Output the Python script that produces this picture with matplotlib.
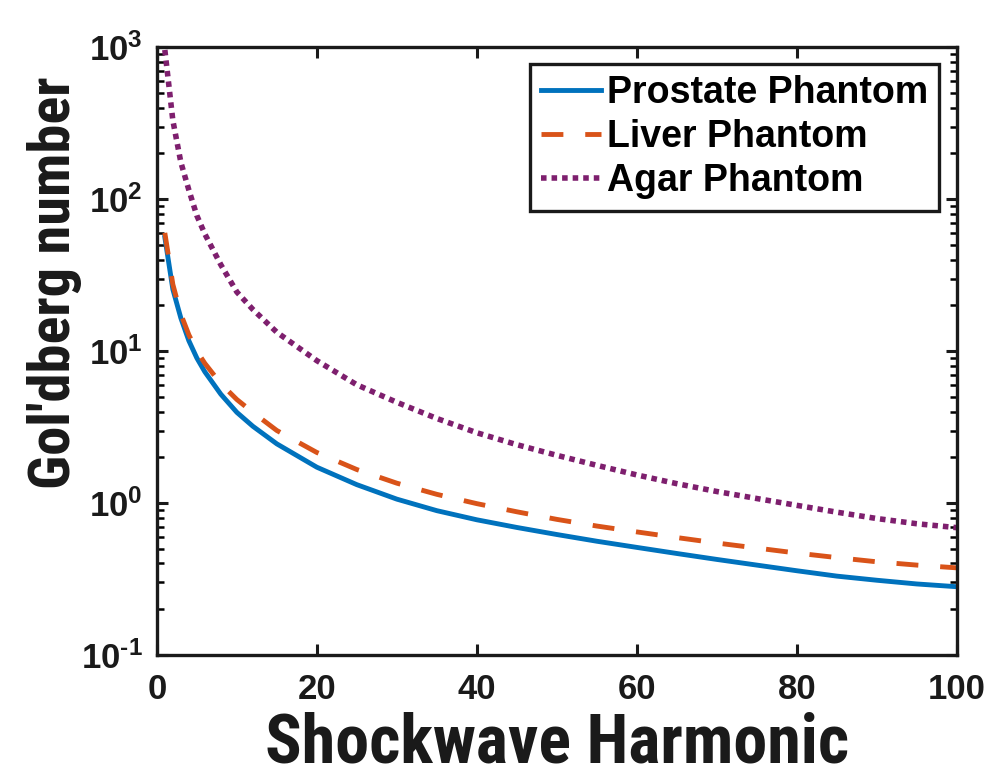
import matplotlib
matplotlib.use("Agg")
import matplotlib.pyplot as plt
from matplotlib import font_manager
from matplotlib.font_manager import FontProperties
from matplotlib.ticker import LogLocator, FixedLocator, FuncFormatter

plt.rcParams['font.family'] = ['Liberation Sans', 'DejaVu Sans']
plt.rcParams['font.weight'] = 'bold'
plt.rcParams['mathtext.fontset'] = 'custom'
plt.rcParams['mathtext.rm'] = 'Liberation Sans:bold'
plt.rcParams['mathtext.bf'] = 'Liberation Sans:bold'
plt.rcParams['mathtext.default'] = 'bf'
plt.rcParams['axes.unicode_minus'] = False


def find_narrow():
    cands = []
    for f in font_manager.fontManager.ttflist:
        nm = f.name.lower()
        fn = f.fname.lower()
        if 'dejavu' in nm:
            continue
        narrow = ('narrow' in nm or 'condensed' in nm or 'narrow' in fn
                  or 'condensed' in fn or f.stretch in ('condensed', 'semi-condensed', 300))
        bold = (f.weight in ('bold', 700, 'semibold', 600) or 'bold' in fn)
        if narrow and bold and 'italic' not in fn and 'oblique' not in fn:
            cands.append(f.fname)
    cands.sort(key=lambda p: (0 if 'liberation' in p.lower() else
                              1 if 'roboto' in p.lower() else 2, len(p)))
    return cands[0] if cands else None


narrow_file = find_narrow()

# harmonic number
harmonic = [1, 2, 3, 4, 5, 6, 8, 10, 12, 15, 20, 25, 30, 35, 40, 45, 50,
            55, 60, 65, 70, 75, 80, 85, 90, 95, 100]

prostate = [56, 25.5, 16.5, 11.7, 9.0, 7.3, 5.2, 3.95, 3.2, 2.45, 1.72, 1.32,
            1.06, 0.89, 0.775, 0.69, 0.62, 0.56, 0.51, 0.465, 0.425, 0.39,
            0.358, 0.33, 0.31, 0.293, 0.281]

liver = [60, 27.5, 17.5, 12.8, 10.0, 8.3, 6.1, 4.8, 3.95, 3.0, 2.15, 1.66,
         1.35, 1.14, 0.99, 0.875, 0.78, 0.705, 0.645, 0.592, 0.545, 0.505,
         0.468, 0.437, 0.41, 0.39, 0.374]

agar = [960, 330, 175, 115, 78, 59, 37, 24.5, 18.8, 13.3, 8.65, 6.0, 4.6,
        3.6, 2.9, 2.42, 2.06, 1.77, 1.53, 1.34, 1.19, 1.07, 0.965, 0.87,
        0.79, 0.73, 0.688]

labels = ['Prostate Phantom', 'Liver Phantom', 'Agar Phantom']
x_ticks = [0, 20, 40, 60, 80, 100]


def pow_label(v, pos):
    import math
    e = int(round(math.log10(v)))
    exp = r'\text{-}%d' % (-e) if e < 0 else '%d' % e
    return r'$10^{%s}$' % exp


fig = plt.figure(figsize=(9.99, 7.75), dpi=100)
ax = fig.add_axes([0.157, 0.155, 0.8007, 0.784])

ax.plot(harmonic, prostate, color='#0072BD', lw=3.5, label=labels[0])
ax.plot(harmonic, liver, color='#D95319', lw=3.5, linestyle=(0, (4.5, 4.5)),
        label=labels[1])
ax.plot(harmonic, agar, color='#7E1F6E', lw=4.0, linestyle=(0, (1.0, 0.9)),
        label=labels[2])

ax.set_yscale('log')
ax.set_xlim(0, 100)
ax.set_ylim(0.1, 1000)
ax.xaxis.set_major_locator(FixedLocator(x_ticks))
ax.yaxis.set_major_locator(LogLocator(base=10, numticks=10))
ax.yaxis.set_minor_locator(LogLocator(base=10, subs=range(2, 10), numticks=20))
ax.yaxis.set_major_formatter(FuncFormatter(pow_label))

for s in ax.spines.values():
    s.set_linewidth(2.4)
    s.set_color('#1a1a1a')

ax.tick_params(axis='both', which='major', direction='in', length=8, width=2.2,
               top=True, right=True, labelsize=25, colors='#1a1a1a')
ax.tick_params(axis='x', which='major', pad=13)
ax.tick_params(axis='y', which='major', pad=10)
ax.tick_params(axis='y', which='minor', direction='in', length=5, width=1.8,
               left=True, right=True)
ax.tick_params(axis='x', which='minor', bottom=False, top=False)
for lab in ax.get_xticklabels() + ax.get_yticklabels():
    lab.set_fontweight('bold')

if narrow_file:
    xfp = FontProperties(fname=narrow_file, size=49)
    yfp = FontProperties(fname=narrow_file, size=42)
else:
    xfp = FontProperties(family=['Liberation Sans', 'DejaVu Sans'],
                         weight='bold', size=40)
    yfp = FontProperties(family=['Liberation Sans', 'DejaVu Sans'],
                         weight='bold', size=35)

ax.set_xlabel('Shockwave Harmonic', fontproperties=xfp, color='#1a1a1a')
ax.xaxis.set_label_coords(0.5, -0.093)
ax.set_ylabel("Gol'dberg number", fontproperties=yfp, color='#1a1a1a')
ax.yaxis.set_label_coords(-0.094, 0.612)

leg = ax.legend(loc='upper right', fontsize=27, handlelength=1.6,
                handletextpad=0.15, borderpad=0.3, labelspacing=0.22,
                borderaxespad=0.0, fancybox=False, framealpha=1,
                edgecolor='#1a1a1a', bbox_to_anchor=(0.978, 0.973))
leg.get_frame().set_linewidth(2.4)
for t in leg.get_texts():
    t.set_fontweight('bold')

fig.savefig('out.png', dpi=100)
